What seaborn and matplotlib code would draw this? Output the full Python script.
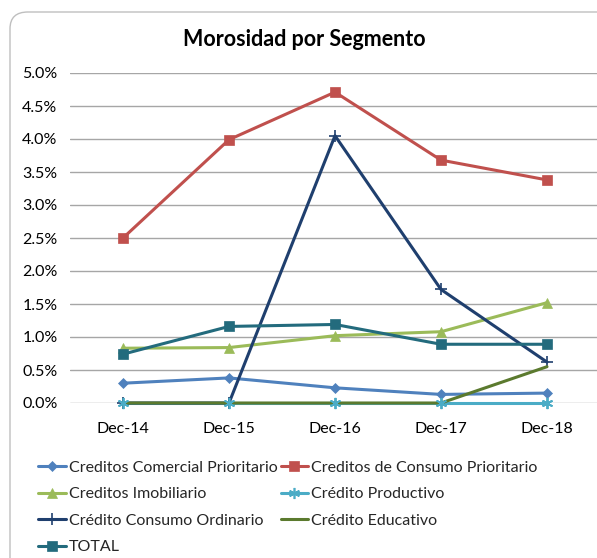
import matplotlib
matplotlib.use("Agg")
import matplotlib.pyplot as plt
from matplotlib.patches import FancyBboxPatch
from matplotlib.ticker import PercentFormatter
import pandas as pd
import seaborn as sns

OUTPUT_FILE = "out.png"

# Data, values in %
periods = ["Dec-14", "Dec-15", "Dec-16", "Dec-17", "Dec-18"]
comercial_prioritario = [0.30, 0.38, 0.23, 0.13, 0.15]
consumo_prioritario = [2.50, 3.99, 4.71, 3.68, 3.38]
imobiliario = [0.83, 0.84, 1.02, 1.08, 1.52]
productivo = [0.00, 0.00, 0.00, 0.00, 0.00]
consumo_ordinario = [0.00, 0.00, 4.05, 1.72, 0.62]
educativo = [0.00, 0.00, 0.00, 0.00, 0.55]
total = [0.74, 1.16, 1.19, 0.89, 0.89]

series_names = [
    "Creditos Comercial Prioritario",
    "Creditos de Consumo Prioritario",
    "Creditos Imobiliario",
    "Crédito Productivo",
    "Crédito Consumo Ordinario",
    "Crédito Educativo",
    "TOTAL",
]
series_values = [comercial_prioritario, consumo_prioritario, imobiliario,
                 productivo, consumo_ordinario, educativo, total]

# Excel-ish styling per series
STYLES = {
    "Creditos Comercial Prioritario": dict(color="#4F81BD", marker="D", ms=5.5, z=3),
    "Creditos de Consumo Prioritario": dict(color="#C0504D", marker="s", ms=6.5, z=3),
    "Creditos Imobiliario": dict(color="#9BBB59", marker="^", ms=7, z=3),
    "Crédito Productivo": dict(color="#4BACC6", marker=(6, 2, 0), ms=8, z=3),
    "Crédito Consumo Ordinario": dict(color="#1F3F6E", marker="+", ms=9, z=3),
    "Crédito Educativo": dict(color="#5B7A2E", marker="", ms=0, z=4),
    "TOTAL": dict(color="#236B7D", marker="s", ms=7, z=3),
}

rows = []
for name, vals in zip(series_names, series_values):
    for p, v in zip(periods, vals):
        rows.append({"Periodo": p, "Serie": name, "Valor": v / 100.0})
df = pd.DataFrame(rows)

sns.set_theme(style="white")
plt.rcParams["font.family"] = ["Lato", "DejaVu Sans"]

fig = plt.figure(figsize=(5.97, 5.58), dpi=100)
fig.patch.set_facecolor("white")

# Rounded chart frame like Excel (bottom/right edges run off the image)
frame = FancyBboxPatch((10 / 597, -0.1), 1.2, 1.1 - 12 / 558,
                       boxstyle="round,pad=0,rounding_size=0.03",
                       transform=fig.transFigure, facecolor="none",
                       edgecolor="#BFBFBF", linewidth=1.0, zorder=-1)
fig.patches.append(frame)

ax = fig.add_axes([70 / 597, 1 - 403 / 558, 530 / 597, 330 / 558])
ax.set_facecolor("none")

for name in series_names:
    st = STYLES[name]
    sub = df[df["Serie"] == name]
    sns.lineplot(
        data=sub, x="Periodo", y="Valor", ax=ax, sort=False,
        color=st["color"], linewidth=2.2, marker=st["marker"] or None,
        markersize=st["ms"], markeredgecolor=st["color"],
        markeredgewidth=1.2 if st["marker"] in ("+", (6, 2, 0)) else 0.5,
        label=name, zorder=st["z"], clip_on=False,
    )

# Productivo asterisks sit on top of the Educativo line in the reference
st = STYLES["Crédito Productivo"]
sns.lineplot(
    data=df[df["Serie"] == "Crédito Productivo"], x="Periodo", y="Valor",
    ax=ax, sort=False, color=st["color"], linestyle="none",
    marker=st["marker"], markersize=st["ms"], markeredgecolor=st["color"],
    markeredgewidth=1.2, zorder=6, clip_on=False, legend=False,
)

ax.set_xlim(-0.5, 4.5)
ax.set_ylim(0, 0.05)
ax.set_yticks([i * 0.005 for i in range(11)])
ax.yaxis.set_major_formatter(PercentFormatter(1.0, decimals=1))
ax.grid(axis="y", color="#A6A6A6", linewidth=1.0)
ax.grid(axis="x", visible=False)
ax.set_axisbelow(True)
for s in ax.spines.values():
    s.set_visible(False)
ax.tick_params(axis="both", length=0, labelsize=11.5, colors="black", pad=9)
ax.tick_params(axis="x", pad=14)
ax.set_xlabel("")
ax.set_ylabel("")

fig.text(0.51, 1 - 40 / 558, "Morosidad por Segmento", ha="center", va="center",
         fontsize=15.5, fontweight="bold", color="black")

# Legend: row-wise ordering in two columns
handles, labels = ax.get_legend_handles_labels()
order = [0, 2, 4, 6, 1, 3, 5]
if ax.legend_:
    ax.legend_.remove()
fig.legend([handles[i] for i in order], [labels[i] for i in order],
           loc="upper left", bbox_to_anchor=(32 / 597, 1 - 454 / 558),
           ncol=2, frameon=False, fontsize=11.5, handlelength=1.7,
           handletextpad=0.2, columnspacing=0.2, labelspacing=0.78,
           borderaxespad=0)

plt.savefig(OUTPUT_FILE, dpi=100)
plt.close()
